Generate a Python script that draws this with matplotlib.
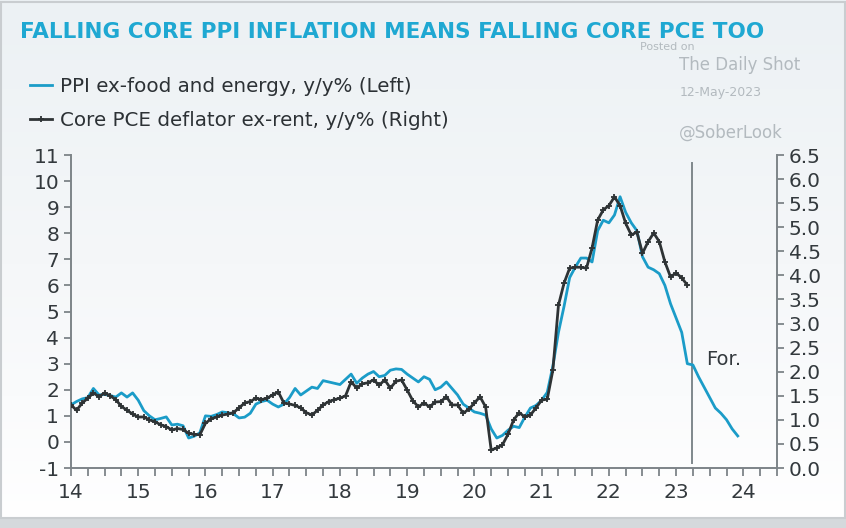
import numpy as np
import matplotlib.pyplot as plt
from matplotlib.lines import Line2D
from matplotlib.patches import Rectangle
from matplotlib.colors import LinearSegmentedColormap

plt.rcParams['axes.unicode_minus'] = False

# PPI ex-food and energy, y/y %, monthly Jan 2014 - Dec 2023 (left axis)
ppi = [1.42, 1.55, 1.65, 1.70, 2.05, 1.80, 1.82, 1.78, 1.72, 1.88, 1.72, 1.88,
       1.60, 1.20, 1.00, 0.85, 0.90, 0.96, 0.65, 0.68, 0.62, 0.15, 0.22, 0.35,
       1.00, 0.98, 1.05, 1.15, 1.12, 1.08, 0.92, 0.95, 1.10, 1.45, 1.55, 1.60,
       1.45, 1.34, 1.45, 1.70, 2.05, 1.80, 1.95, 2.10, 2.05, 2.35, 2.30, 2.25,
       2.20, 2.40, 2.60, 2.25, 2.45, 2.60, 2.70, 2.50, 2.55, 2.75, 2.80, 2.78,
       2.60, 2.45, 2.30, 2.50, 2.40, 2.00, 2.10, 2.30, 2.05, 1.80, 1.45, 1.30,
       1.15, 1.10, 1.03, 0.50, 0.15, 0.25, 0.45, 0.60, 0.55, 0.95, 1.30, 1.40,
       1.60, 1.90, 2.90, 4.20, 5.20, 6.30, 6.70, 7.05, 7.05, 6.90, 8.10, 8.50,
       8.40, 8.70, 9.40, 8.80, 8.40, 8.10, 7.10, 6.70, 6.60, 6.45, 6.00, 5.30,
       4.75, 4.20, 3.00, 2.95, 2.50, 2.10, 1.70, 1.30, 1.10, 0.85, 0.50, 0.23]

# Core PCE deflator ex-rent, y/y %, monthly Jan 2014 - Mar 2023 (right axis)
pce = [1.31, 1.20, 1.35, 1.45, 1.56, 1.48, 1.56, 1.50, 1.42, 1.28, 1.20, 1.12,
       1.06, 1.06, 1.00, 0.96, 0.90, 0.86, 0.79, 0.82, 0.80, 0.72, 0.70, 0.69,
       0.93, 1.02, 1.06, 1.10, 1.12, 1.15, 1.25, 1.35, 1.38, 1.45, 1.42, 1.45,
       1.52, 1.58, 1.35, 1.33, 1.30, 1.25, 1.15, 1.10, 1.20, 1.31, 1.38, 1.42,
       1.45, 1.50, 1.79, 1.66, 1.75, 1.77, 1.83, 1.72, 1.83, 1.66, 1.80, 1.83,
       1.62, 1.40, 1.27, 1.35, 1.27, 1.37, 1.38, 1.48, 1.31, 1.31, 1.14, 1.22,
       1.35, 1.48, 1.27, 0.37, 0.42, 0.48, 0.70, 1.00, 1.15, 1.06, 1.10, 1.25,
       1.41, 1.43, 2.03, 3.38, 3.84, 4.15, 4.17, 4.17, 4.15, 4.57, 5.15, 5.36,
       5.45, 5.63, 5.45, 5.08, 4.84, 4.90, 4.46, 4.70, 4.88, 4.70, 4.28, 3.97,
       4.05, 3.95, 3.80]

year_labels = ['14', '15', '16', '17', '18', '19', '20', '21', '22', '23', '24']
forecast_start = 23.24

ppi_x = 14 + np.arange(len(ppi)) / 12
pce_x = 14 + np.arange(len(pce)) / 12

blue = '#1b9cc8'
dark = '#2e3335'
txt = '#33393d'
spine = '#7d8488'

fig = plt.figure(figsize=(8.46, 5.28), dpi=100)

# background gradient + frame
bg = fig.add_axes([0, 0, 1, 1], zorder=-1)
grad = np.linspace(0, 1, 256).reshape(-1, 1)
cmap = LinearSegmentedColormap.from_list('bg', ['#ecf1f4', '#f5f7f9', '#ffffff'])
bg.imshow(grad, aspect='auto', cmap=cmap, extent=[0, 1, 0, 1], origin='upper')
bg.add_patch(Rectangle((0, 0), 1, 0.018, color='#d5d9dc', transform=bg.transAxes))
bg.add_patch(Rectangle((0.001, 0.018), 0.998, 0.979, fill=False, ec='#c9cdd0', lw=1.5,
                       transform=bg.transAxes))
bg.set_xlim(0, 1)
bg.set_ylim(0, 1)
bg.axis('off')

ax = fig.add_axes([0.0839, 0.1136, 0.8345, 0.5928])
ax.set_facecolor('none')
ax2 = ax.twinx()

ax.plot(ppi_x, ppi, color=blue, lw=2.0, zorder=3)
ax2.plot(pce_x, pce, color=dark, lw=2.0, marker='+', ms=4, mew=1.3, zorder=4)

ax.axvline(forecast_start, ymin=0.016, ymax=0.974, color='#7f888c', lw=1.4)
ax.text(23.44, 3.15, 'For.', fontsize=14, color=txt, va='center', ha='left')

ax.set_xlim(14, 24.5)
ax.set_ylim(-1, 11)
ax2.set_ylim(0, 6.5)

ax.set_xticks(range(14, 25))
ax.set_xticklabels(year_labels)
ax.set_xticks(np.arange(14, 24.6, 0.25), minor=True)
ax.set_yticks(range(-1, 12))
ax2.set_yticks(np.arange(0, 6.6, 0.5))
ax2.set_yticklabels(['%.1f' % v for v in np.arange(0, 6.6, 0.5)])

for a in (ax, ax2):
    for s in a.spines.values():
        s.set_color(spine)
        s.set_linewidth(1.4)
    a.spines['top'].set_visible(False)
ax.spines['right'].set_visible(False)
ax2.spines['left'].set_visible(False)
ax2.spines['bottom'].set_visible(False)

ax.tick_params(axis='both', which='both', colors=spine, width=1.3, labelcolor=txt, labelsize=14.5)
ax.tick_params(axis='x', which='major', length=6, pad=5)
ax.tick_params(axis='x', which='minor', length=6)
ax.tick_params(axis='y', length=5)
ax2.tick_params(axis='y', colors=spine, width=1.3, length=5, labelcolor=txt, labelsize=14.5)

# title
fig.text(0.024, 0.939, 'FALLING CORE PPI INFLATION MEANS FALLING CORE PCE TOO',
         fontsize=15.5, fontweight='bold', color='#1fa8d2', va='center', ha='left')

# legend
handles = [Line2D([], [], color=blue, lw=2),
           Line2D([], [], color=dark, lw=2, marker='+', ms=4, mew=1.3)]
labels = ['PPI ex-food and energy, y/y% (Left)', 'Core PCE deflator ex-rent, y/y% (Right)']
fig.legend(handles, labels, loc='upper left', bbox_to_anchor=(0.014, 0.888), frameon=False,
           handlelength=1.1, handletextpad=0.4, labelspacing=0.75,
           prop={'size': 14.3}, labelcolor='#2c3135')

# watermark
wm = '#b3babf'
fig.text(0.757, 0.905, 'Posted on', fontsize=8, color=wm)
fig.text(0.803, 0.867, 'The Daily Shot', fontsize=12, color=wm)
fig.text(0.803, 0.818, '12-May-2023', fontsize=9, color=wm)
fig.text(0.803, 0.74, '@SoberLook', fontsize=12, color=wm)

fig.savefig('out.png', dpi=100)
